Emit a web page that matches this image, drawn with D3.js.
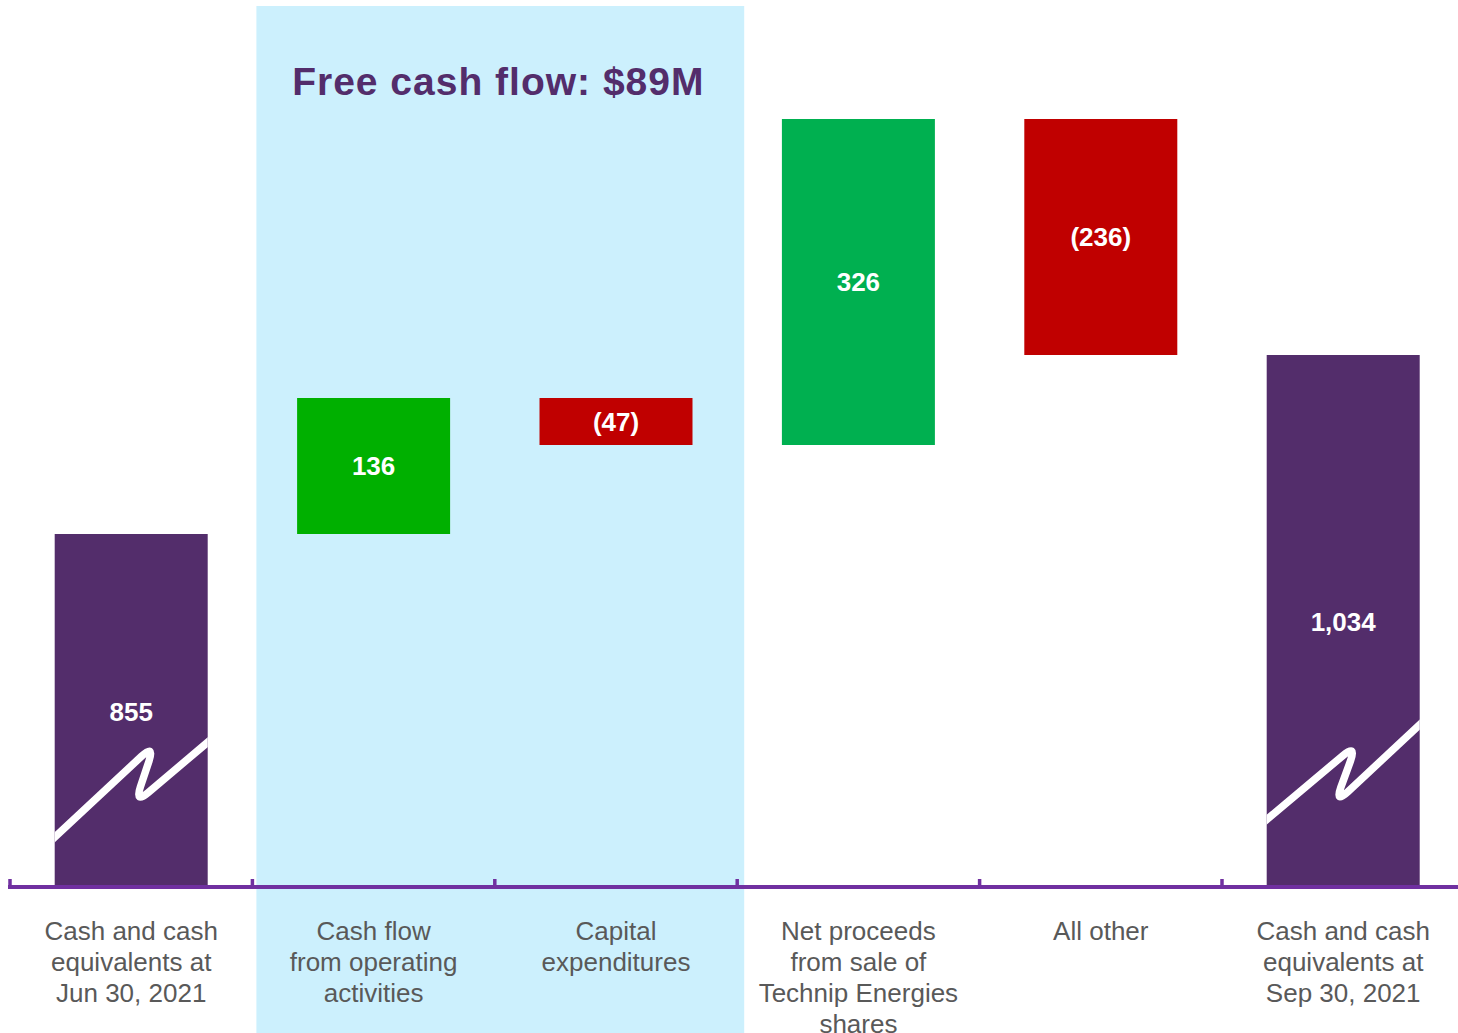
<!DOCTYPE html>
<html>
<head>
<meta charset="utf-8">
<script src="https://cdn.jsdelivr.net/npm/d3@7"></script>
<style>
  body { margin: 0; background: #fff; }
  svg { display: block; font-family: Arial, "Liberation Sans", sans-serif; }
</style>
</head>
<body>
<script>
// data
const categories = [
  ["Cash and cash", "equivalents at", "Jun 30, 2021"],
  ["Cash flow", "from operating", "activities"],
  ["Capital", "expenditures"],
  ["Net proceeds", "from sale of", "Technip Energies", "shares"],
  ["All other"],
  ["Cash and cash", "equivalents at", "Sep 30, 2021"]
];
const values = [855, 136, -47, 326, -236, 1034];
const kinds = ["total", "delta", "delta", "delta", "delta", "total"];
const valueLabels = ["855", "136", "(47)", "326", "(236)", "1,034"];
const highlighted = [1, 2];
const highlightTitle = "Free cash flow: $89M";

// styles
const barColors = ["#532d6b", "#00b000", "#c00000", "#00b050", "#c00000", "#532d6b"];
const axisColor = "#7030a0";
const highlightColor = "#ccf0fd";

const width = 1458;
const height = 1033;
const axisY = 887;

const svg = d3
  .select("body")
  .append("svg")
  .attr("width", width)
  .attr("height", height);

// waterfall steps
let running = 0;
const bars = values.map(function (v, i) {
  let start, end;
  if (kinds[i] === "total") {
    start = 0;
    end = v;
    running = v;
  } else {
    start = running;
    end = running + v;
    running = end;
  }
  return { i, start, end, label: valueLabels[i], total: kinds[i] === "total" };
});

const x = d3.scaleBand().domain(d3.range(categories.length)).range([10, 1464.4]).padding(0);
const barW = 153;
const barOff = (x.bandwidth() - barW) / 2;

// axis is broken: visible range starts at 500
const y = d3.scaleLinear().domain([500, 1300]).range([888, 88]);
const yc = (v) => y(Math.max(v, 500));

// highlight panel
const hx0 = x(highlighted[0]) + 4;
const hx1 = x(highlighted[highlighted.length - 1]) + x.bandwidth() + 7;
svg
  .append("rect")
  .attr("x", hx0)
  .attr("y", 6)
  .attr("width", hx1 - hx0)
  .attr("height", height - 6)
  .attr("fill", highlightColor);

svg
  .append("text")
  .attr("x", (hx0 + hx1) / 2 - 2)
  .attr("y", 95)
  .attr("text-anchor", "middle")
  .style("font-size", "39px")
  .style("font-weight", "bold")
  .style("letter-spacing", "1px")
  .attr("fill", "#532d6b")
  .text(highlightTitle);

// bars
const defs = svg.append("defs");
const g = svg.append("g");

g.selectAll("rect.bar")
  .data(bars)
  .enter()
  .append("rect")
  .attr("class", "bar")
  .attr("x", (d) => x(d.i) + barOff)
  .attr("y", (d) => yc(Math.max(d.start, d.end)) + 1)
  .attr("width", barW)
  .attr("height", (d) => yc(Math.min(d.start, d.end)) - yc(Math.max(d.start, d.end)))
  .attr("fill", (d) => barColors[d.i]);

// break marks on the total bars
function roundedPolyline(pts, r) {
  const p = d3.path();
  p.moveTo(pts[0][0], pts[0][1]);
  for (let k = 1; k < pts.length - 1; k++) {
    const a = pts[k - 1], b = pts[k], c = pts[k + 1];
    const d1 = Math.hypot(b[0] - a[0], b[1] - a[1]);
    const d2 = Math.hypot(c[0] - b[0], c[1] - b[1]);
    const p1 = [b[0] - (b[0] - a[0]) * r / d1, b[1] - (b[1] - a[1]) * r / d1];
    const p2 = [b[0] + (c[0] - b[0]) * r / d2, b[1] + (c[1] - b[1]) * r / d2];
    p.lineTo(p1[0], p1[1]);
    p.quadraticCurveTo(b[0], b[1], p2[0], p2[1]);
  }
  const last = pts[pts.length - 1];
  p.lineTo(last[0], last[1]);
  return p.toString();
}

const breakShapes = [
  [[-4, 46], [100, 143], [80, 83], [158, 149]],
  [[-4, 64], [90, 143], [68, 83], [158, 167]]
];

bars.filter((d) => d.total).forEach(function (d, k) {
  const x0 = x(d.i) + barOff;
  const top = yc(d.end);
  const bottom = yc(0);
  const id = "clip" + d.i;
  defs.append("clipPath").attr("id", id)
    .append("rect").attr("x", x0).attr("y", top).attr("width", barW).attr("height", bottom - top);
  const pts = breakShapes[k].map((p) => [x0 + p[0], axisY - p[1]]);
  g.append("path")
    .attr("d", roundedPolyline(pts, 18))
    .attr("clip-path", "url(#" + id + ")")
    .attr("fill", "none")
    .attr("stroke", "#fff")
    .attr("stroke-width", 7.5);
});

// value labels
g.selectAll("text.value")
  .data(bars)
  .enter()
  .append("text")
  .attr("class", "value")
  .attr("x", (d) => x(d.i) + x.bandwidth() / 2)
  .attr("y", (d) => (yc(d.start) + yc(d.end)) / 2 + 1)
  .attr("dy", "0.36em")
  .attr("text-anchor", "middle")
  .attr("fill", "#fff")
  .style("font-size", "26px")
  .style("font-weight", "bold")
  .text((d) => d.label);

// axis
const axis = svg.append("g").attr("class", "axis");
axis
  .append("line")
  .attr("x1", 8)
  .attr("x2", width)
  .attr("y1", axisY)
  .attr("y2", axisY)
  .attr("stroke", axisColor)
  .attr("stroke-width", 4);
axis
  .selectAll("line.tick")
  .data(d3.range(categories.length))
  .enter()
  .append("line")
  .attr("class", "tick")
  .attr("x1", (d) => x(d))
  .attr("x2", (d) => x(d))
  .attr("y1", axisY - 8)
  .attr("y2", axisY)
  .attr("stroke", axisColor)
  .attr("stroke-width", 3.5);

// category labels
const labels = svg
  .selectAll("text.cat")
  .data(categories)
  .enter()
  .append("text")
  .attr("class", "cat")
  .attr("text-anchor", "middle")
  .attr("fill", "#595959")
  .style("font-size", "26px");

labels
  .selectAll("tspan")
  .data((d, i) => d.map((line) => ({ line, i })))
  .enter()
  .append("tspan")
  .attr("x", (d) => x(d.i) + x.bandwidth() / 2)
  .attr("y", (d, j) => 940 + j * 31)
  .text((d) => d.line);
</script>
</body>
</html>
